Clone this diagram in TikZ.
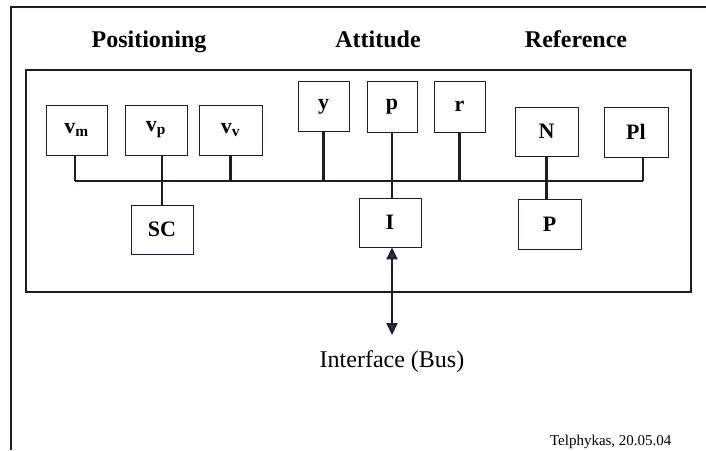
\documentclass[tikz,border=0pt]{standalone}
\usepackage{fontspec}
\setmainfont{Liberation Serif}
\usetikzlibrary{arrows.meta}
\definecolor{ink}{HTML}{1C1C2A}
\definecolor{tipcol}{HTML}{2A3A3A}
\begin{document}
\begin{tikzpicture}[x=1pt,y=-1pt,
  unitbox/.style={draw=ink,line width=0.9pt,inner sep=0pt,
    font=\fontsize{22}{24}\selectfont\bfseries,text=black},
  heading/.style={anchor=base,font=\fontsize{24}{27}\selectfont\bfseries,text=black},
  busline/.style={draw=ink,line width=2.4pt},
  frame/.style={draw=ink,line width=2.4pt},
  biarrow/.style={draw=ink,line width=2pt,
    {Triangle[width=11pt,length=12pt,fill=tipcol]}-{Triangle[width=11pt,length=12pt,fill=tipcol]}}]
\useasboundingbox (0,0) rectangle (706,450);

% outer page border (left and top edges)
\draw[ink,line width=1.2pt] (11,450) -- (11,7) -- (706,7);

% group headings
\node[heading] (hpos) at (149,47) {Positioning};
\node[heading] (hatt) at (378,47) {Attitude};
\node[heading] (href) at (576,47) {Reference};

% enclosing frame
\draw[frame] (26,70) rectangle (691,292);

% units above the bus
\node[unitbox,minimum width=61pt,minimum height=50pt] (vm) at (76.5,130) {v\textsubscript{m}};
\node[unitbox,minimum width=62pt,minimum height=50pt] (vp) at (156,130) {v\textsubscript{p}};
\node[unitbox,minimum width=63pt,minimum height=50pt] (vv) at (230.5,130) {v\textsubscript{v}};
\node[unitbox,minimum width=51pt,minimum height=50pt] (y) at (323.5,106.5) {y};
\node[unitbox,minimum width=50pt,minimum height=51pt] (p) at (392,106.5) {p};
\node[unitbox,minimum width=51pt,minimum height=51pt] (r) at (459.5,106.5) {r};
\node[unitbox,minimum width=63pt,minimum height=49pt] (N) at (546.5,131.5) {N};
\node[unitbox,minimum width=64pt,minimum height=50pt] (Pl) at (636,132) {Pl};

% units below the bus
\node[unitbox,minimum width=62pt,minimum height=49pt] (SC) at (162,229.5) {SC};
\node[unitbox,minimum width=62pt,minimum height=49pt] (I) at (390,222.5) {I};
\node[unitbox,minimum width=63pt,minimum height=50pt] (P) at (549.5,224) {P};

% bus
\coordinate (busL) at (75,181);
\coordinate (busR) at (643,181);
\draw[busline] (busL) -- (busR);

% stubs onto the bus
\draw[busline] (vm.south -| busL) -- (busL);
\draw[busline] (vp.south -| SC.north) -- (SC.north);
\draw[busline] (vv.south) -- (vv.south |- busL);
\draw[busline] (y.south) -- (y.south |- busL);
\draw[busline] (p.south) -- (p.south |- I.north);
\draw[busline] (r.south) -- (r.south |- busL);
\draw[busline] (N.south) -- (N.south |- P.north);
\draw[busline] (Pl.south -| busR) -- (busR);

% external interface
\coordinate (ifc) at (392,335);
\draw[biarrow] (I.south -| ifc) -- (ifc);
\node[anchor=base,font=\fontsize{24}{26}\selectfont,text=black] (ifctext) at (392,367) {Interface (Bus)};

% footer
\node[anchor=base east,font=\fontsize{15}{17}\selectfont,text=black] (foot) at (675,445) {Telphykas, 20.05.04};
\end{tikzpicture}
\end{document}
